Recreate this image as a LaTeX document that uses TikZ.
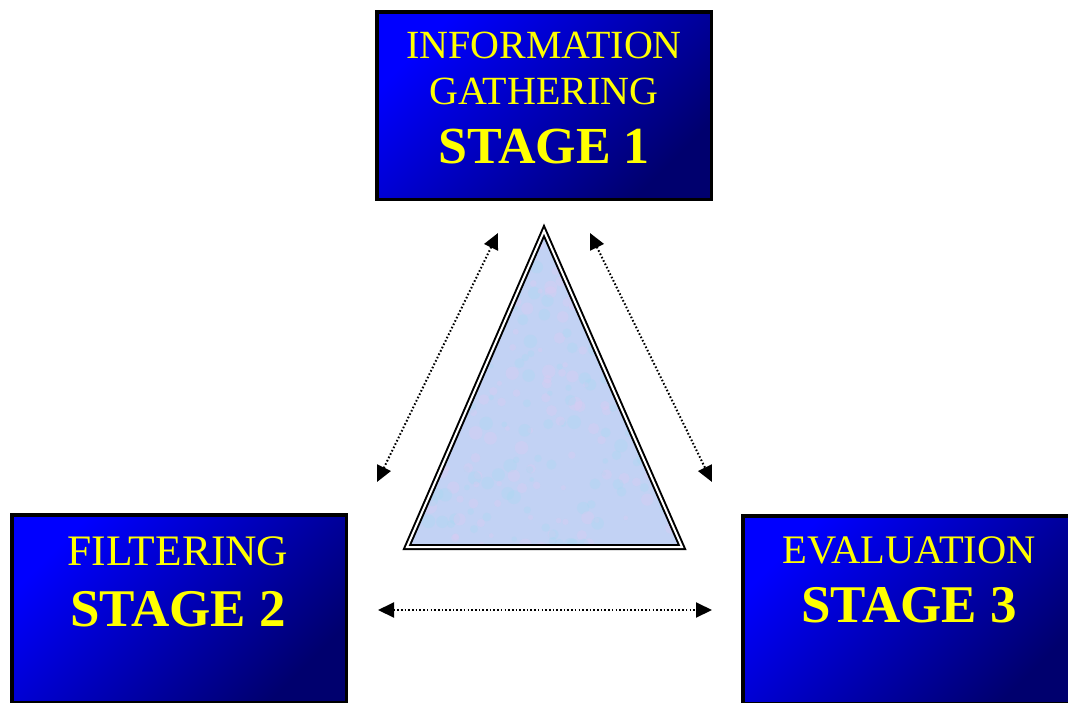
\documentclass[tikz,border=0pt]{standalone}
\usepackage{fontspec}
\setmainfont{Liberation Serif}
\usetikzlibrary{arrows.meta,shapes}
\definecolor{boxblue}{RGB}{0,0,255}
\definecolor{boxmid}{RGB}{0,0,215}
\definecolor{boxnavy}{RGB}{0,0,110}
\definecolor{stagetext}{RGB}{255,255,0}
\definecolor{trifill}{RGB}{194,210,244}
\definecolor{tripink}{RGB}{222,202,242}
\definecolor{tricyan}{RGB}{170,216,242}

\begin{document}
\begin{tikzpicture}[x=1pt,y=-1pt,>={Triangle[length=16pt,width=15pt]},
  stage node/.style={rectangle,draw=black,line width=3.5pt,
    top color=boxblue,middle color=boxmid,bottom color=boxnavy,shading angle=45,
    minimum width=334.5pt,minimum height=187.5pt,inner sep=0pt},
  thin text/.style={anchor=base,text=stagetext,inner sep=0pt},
  link/.style={<->,line width=2pt,dash pattern=on 1.6pt off 2.1pt}]

  \clip (0,0) rectangle (1068,702);

  % the three stages
  \node[stage node] (s1) at (544,105.5) {};
  \node[stage node] (s2) at (179,608.5) {};
  \node[stage node] (s3) at (910,609.5) {};

  \node[thin text,font=\fontsize{40}{40}\selectfont] (s1a) at (544,58) {INFORMATION};
  \node[thin text,font=\fontsize{40}{40}\selectfont] (s1b) at (544,104) {GATHERING};
  \node[thin text,font=\fontsize{52}{52}\selectfont\bfseries] (s1c) at (544,163) {STAGE 1};

  \node[thin text,font=\fontsize{43.5}{44}\selectfont] (s2a) at (178,565) {FILTERING};
  \node[thin text,font=\fontsize{53}{53}\selectfont\bfseries] (s2b) at (178,626) {STAGE 2};

  \node[thin text,font=\fontsize{40.5}{41}\selectfont] (s3a) at (909,563) {EVALUATION};
  \node[thin text,font=\fontsize{53}{53}\selectfont\bfseries] (s3b) at (909,622) {STAGE 3};

  % triangle in the middle, with a mottled fill
  \begin{scope}
    \clip (544,231) -- (682,547) -- (407,547) -- cycle;
    \fill[trifill] (400,225) rectangle (690,555);
    \pgfmathsetseed{7}
    \foreach \i in {1,...,360} {
      \pgfmathsetmacro{\px}{407+275*rnd}
      \pgfmathsetmacro{\py}{231+316*rnd}
      \pgfmathsetmacro{\pr}{2+5*rnd}
      \ifodd\i
        \fill[tripink,opacity=0.35] (\px,\py) circle (\pr);
      \else
        \fill[tricyan,opacity=0.35] (\px,\py) circle (\pr);
      \fi
    }
  \end{scope}
  \draw[line width=2pt,double=white,double distance=2pt,miter limit=20]
    (544,231) -- (682,547) -- (407,547) -- cycle;

  % dotted links
  \coordinate (l12) at (498,233);
  \coordinate (l21) at (377,482);
  \coordinate (l13) at (590,233);
  \coordinate (l31) at (712,482);
  \coordinate (l23) at (378,610);
  \coordinate (l32) at (712,610);

  \path (l21) edge[link] (l12)
        (l13) edge[link] (l31)
        (l23) edge[link] (l32);
\end{tikzpicture}
\end{document}
